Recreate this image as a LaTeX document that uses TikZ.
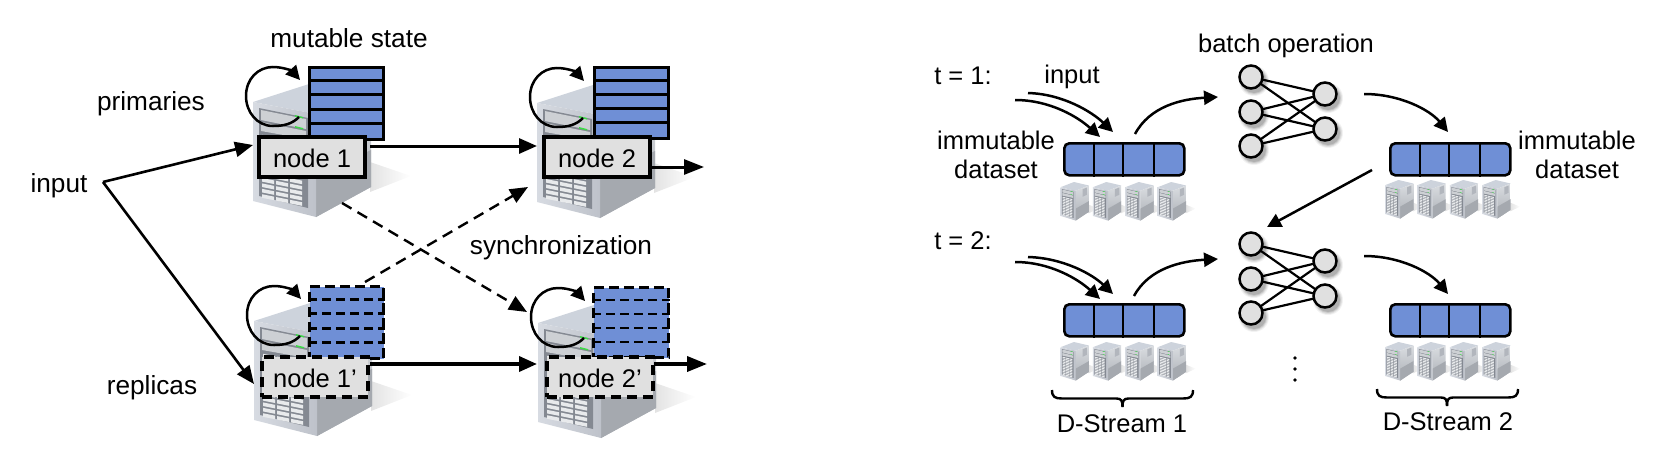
\documentclass[tikz,border=0pt]{standalone}
\usepackage{fontspec}
\setmainfont{Liberation Sans}
\usetikzlibrary{arrows.meta,calc}
\definecolor{blockblue}{RGB}{111,143,214}
\definecolor{boxgray}{RGB}{224,224,224}
\tikzset{
  bigtip/.style={-{Stealth[length=18pt,width=15pt,inset=0pt]}},
  midtip/.style={-{Stealth[length=14pt,width=14pt,inset=0pt]}},
  link/.style={line width=2.6pt,bigtip},
  thicklink/.style={line width=3.6pt,bigtip},
  dashlink/.style={line width=2.4pt,dash pattern=on 11pt off 7pt,bigtip},
  curve/.style={line width=2.5pt,midtip},
  label/.style={inner sep=0pt,anchor=base,font=\fontsize{25.5}{29}\selectfont},
  leftlabel/.style={label,font=\fontsize{26.2}{29}\selectfont},
  nodebox/.style={rectangle,fill=boxgray,draw=black,line width=3.4pt,inner sep=0pt,text height=20pt,text depth=0pt,font=\fontsize{25.5}{29}\selectfont},
  dashbox/.style={nodebox,dash pattern=on 10pt off 6pt},
  stateblock/.style={rectangle,fill=blockblue,draw=black,line width=3.2pt,inner sep=0pt},
  dashblock/.style={stateblock,dash pattern=on 10pt off 5pt},
  rowline/.style={draw=black,line width=2.8pt},
  dashrow/.style={draw=black,line width=2.8pt,dash pattern=on 9pt off 5pt},
  strip/.style={rectangle,rounded corners=5pt,fill=blockblue,draw=black,line width=2.6pt,inner sep=0pt,minimum width=120pt,minimum height=32pt},
  cellline/.style={draw=black,line width=2.4pt},
  circ/.style={circle,fill=boxgray,draw=black,line width=2.5pt,minimum size=23pt,inner sep=0pt},
  netedge/.style={draw=black,line width=2.2pt},
  bracepath/.style={draw=black,line width=2.4pt},
}
% server picture: x, y, xscale, yscale
\newcommand\srv[4]{%
\begin{scope}[shift={(#1,#2)},xscale=#3,yscale=#4]
  \shade[left color=black!11,right color=white] (117,78) -- (158,92) -- (117,108) -- cycle;
  \fill[color={rgb,255:red,205;green,211;blue,220}] (0,18) -- (56,0) -- (118,12) -- (63,30) -- cycle;
  \shade[top color={rgb,255:red,218;green,221;blue,225},bottom color={rgb,255:red,170;green,174;blue,180}] (63,30) -- (118,12) -- (118,103) -- (63,133) -- cycle;
  \fill[color={rgb,255:red,165;green,169;blue,175}] (63,92) -- (118,66) -- (118,103) -- (63,133) -- cycle;
  \fill[color={rgb,255:red,178;green,182;blue,189}] (92,25) -- (110,19) -- (110,44) -- (92,51) -- cycle;
  \shade[left color={rgb,255:red,215;green,219;blue,226},right color={rgb,255:red,190;green,194;blue,202}] (0,18) -- (63,30) -- (63,133) -- (0,117) -- cycle;
  \fill[color={rgb,255:red,132;green,137;blue,146}] (6,24) -- (55,34) -- (55,124) -- (6,112) -- cycle;
  \fill[color={rgb,255:red,205;green,208;blue,212}] (8,26) -- (53,35) -- (53,45) -- (8,36) -- cycle;
  \fill[color={rgb,255:red,205;green,208;blue,212}] (8,38) -- (53,47) -- (53,55) -- (8,47) -- cycle;
  \foreach \cx in {9,23,37}{
    \foreach \r in {0,...,11}{
      \fill[color={rgb,255:red,232;green,234;blue,236}] ({\cx},{49+\r*5.4+.2*\cx}) -- ({\cx+12},{49+\r*5.4+.2*(\cx+12)}) -- ({\cx+12},{52.6+\r*5.4+.2*(\cx+12)}) -- ({\cx},{52.6+\r*5.4+.2*\cx}) -- cycle;
    }
  }
  \fill[color={rgb,255:red,60;green,220;blue,70}] (42,31) -- (50,33) -- (50,34.5) -- (42,32.5) -- cycle;
  \fill[color={rgb,255:red,60;green,220;blue,70}] (42,42) -- (50,44) -- (50,45.5) -- (42,43.5) -- cycle;
\end{scope}}
% self loop
\newcommand\selfloop[3]{%
  \begin{scope}[shift={(#2,#3)}]
  \coordinate (#1s) at (46,33);
  \coordinate (#1e) at (47,-4);
  \draw[curve] (#1s) .. controls (39,40) and (31,42) .. (20,42) .. controls (4,42) and (-7,28) .. (-7,12) .. controls (-7,-5) and (5,-17) .. (20,-17) .. controls (30,-17) and (39,-13) .. (#1e);
  \end{scope}}
% state block
\newcommand\stateblk[5]{% name, x1,y1,x2,y2 (solid)
  \node[stateblock,minimum width={#4-#2},minimum height={#5-#3},anchor=north west] (#1) at (#2,#3) {};
  \foreach \k in {1,2,3,4}{\draw[rowline] ($(#1.north west)+(0,{\k*(#5-#3)/5})$) -- ($(#1.north east)+(0,{\k*(#5-#3)/5})$);}}
\newcommand\dashblk[5]{%
  \node[dashblock,minimum width={#4-#2},minimum height={#5-#3},anchor=north west] (#1) at (#2,#3) {};
  \foreach \k in {1,2,3,4}{\draw[dashrow] ($(#1.north west)+(0,{\k*(#5-#3)/5})$) -- ($(#1.north east)+(0,{\k*(#5-#3)/5})$);}}
% dataset strip: name, x, y (north west)
\newcommand\datastrip[3]{%
  \node[strip,anchor=north west] (#1) at (#2,#3) {};
  \draw[cellline] ($(#1.north west)+(31,0)$) -- ($(#1.south west)+(31,0)$);
  \draw[cellline] ($(#1.north west)+(60,0)$) -- ($(#1.south west)+(60,0)$);
  \draw[cellline] ($(#1.north west)+(91,0)$) -- ($(#1.south west)+(91,0)$);}
% four small servers
\newcommand\fourservers[2]{%
  \foreach \i in {0,1,2,3}{\srv{#1+\i*32.4}{#2}{.24}{.29}}}
% network: name, y offset
\newcommand\nnet[2]{%
  \foreach \n/\x/\y in {a/1251/77,b/1251/112,c/1251/146,d/1325/94,e/1325/129}{
    \foreach \rr/\op in {15/.05,14/.08,13/.1,12/.12}{\fill[black,opacity=\op] (\x+3,\y+#2+4) circle (\rr);}
  }
  \foreach \n/\x/\y in {a/1251/77,b/1251/112,c/1251/146,d/1325/94,e/1325/129}{
    \coordinate (#1\n) at (\x,\y+#2);
  }
  \foreach \p in {a,b,c}{\foreach \q in {d,e}{\draw[netedge] (#1\p) -- (#1\q);}}
  \foreach \n in {a,b,c,d,e}{\node[circ] (#1\n c) at (#1\n) {};}
}
% brace: name, x1, xm, x2, y
\newcommand\hbrace[5]{%
  \coordinate (#1l) at (#2,#5);
  \coordinate (#1r) at (#4,#5);
  \coordinate (#1m) at (#3,#5+17);
  \draw[bracepath] (#1l) .. controls ($(#1l)+(0,7)$) and ($(#1l)+(3,8.5)$) .. ($(#1l)+(10,8.5)$) -- ($(#1m)+(-6,-8.5)$) .. controls ($(#1m)+(-1,-8.5)$) and ($(#1m)+(0,-6)$) .. (#1m);
  \draw[bracepath] (#1r) .. controls ($(#1r)+(0,7)$) and ($(#1r)+(-3,8.5)$) .. ($(#1r)+(-10,8.5)$) -- ($(#1m)+(6,-8.5)$) .. controls ($(#1m)+(1,-8.5)$) and ($(#1m)+(0,-6)$) .. (#1m);}
\begin{document}
\begin{tikzpicture}[x=1pt,y=-1pt]
\useasboundingbox (0,0) rectangle (1656,474);
% ---------- left panel
\srv{253}{84}{1}{1}
\srv{537}{85}{1}{1}
\srv{254}{303}{1}{1}
\srv{538}{305}{1}{1}
\selfloop{la}{253}{84}
\selfloop{lb}{537}{85}
\selfloop{lc}{254}{303}
\selfloop{ld}{538}{305}
\stateblk{sa}{308}{66}{382}{138}
\stateblk{sb}{593}{66}{667}{137}
\dashblk{sc}{308}{285}{382}{357}
\dashblk{sd}{592}{286}{667}{356}
\node[nodebox,minimum width=106pt,minimum height=40pt] (n1) at (312,157) {node 1};
\node[nodebox,minimum width=106pt,minimum height=40pt] (n2) at (597,157) {node 2};
\node[dashbox,minimum width=106pt,minimum height=40pt] (n1p) at (315,377) {node 1’};
\node[dashbox,minimum width=106pt,minimum height=40pt] (n2p) at (600,377) {node 2’};
\node[leftlabel] (tmut) at (349,47) {mutable state};
\node[leftlabel] (tpri) at (151,110) {primaries};
\node[leftlabel] (tinp) at (59,192) {input};
\node[leftlabel] (trep) at (152,394) {replicas};
\node[leftlabel] (tsyn) at (561,254) {synchronization};
\coordinate (fork) at (103,182);
\coordinate (in1) at (253,145);
\coordinate (in1p) at (254,384);
\draw[link] (fork) -- (in1);
\draw[link] (fork) -- (in1p);
\coordinate (a1) at (370,146);
\coordinate (a2) at (537,146);
\draw[link,line width=3pt] (a1) -- (a2);
\coordinate (b1) at (652,167);
\coordinate (b2) at (704,167);
\draw[line width=3pt,-{Stealth[length=20pt,width=15pt,inset=0pt]}] (b1) -- (b2);
\coordinate (c1) at (370,364);
\coordinate (c2) at (537,364);
\draw[thicklink] (c1) -- (c2);
\coordinate (d1) at (654,364);
\coordinate (d2) at (707,364);
\draw[line width=3.6pt,-{Stealth[length=20pt,width=15pt,inset=0pt]}] (d1) -- (d2);
\coordinate (e1) at (342,203);
\coordinate (e2) at (527,312);
\draw[dashlink] (e1) -- (e2);
\coordinate (f1) at (365,282);
\coordinate (f2) at (528,187);
\draw[dashlink] (f1) -- (f2);
% ---------- right panel
\node[label] (tt1) at (963,84) {t = 1:};
\node[label] (tt2) at (963,249) {t = 2:};
\node[label] (tin) at (1072,83) {input};
\node[label] (tim1) at (996,149) {immutable};
\node[label] (tds1) at (996,178) {dataset};
\node[label] (tim2) at (1577,149) {immutable};
\node[label] (tds2) at (1577,178) {dataset};
\node[label] (tbat) at (1286,52) {batch operation};
\node[label] (tsa) at (1122,432) {D-Stream 1};
\node[label] (tsb) at (1448,430) {D-Stream 2};
\fourservers{1060.5}{182}
\fourservers{1060.5}{342}
\fourservers{1385}{180}
\fourservers{1385}{342}
\datastrip{da}{1063}{142}
\datastrip{db}{1063}{303}
\datastrip{dc}{1389}{142}
\datastrip{dd}{1389}{303}
\nnet{na}{0}
\nnet{nb}{167}
% curves row 1
\coordinate (g1) at (1015,100);
\coordinate (g2) at (1100,137);
\draw[curve] (g1) .. controls (1050,100) and (1078,117) .. (g2);
\coordinate (h1) at (1028,93);
\coordinate (h2) at (1113,132);
\draw[curve] (h1) .. controls (1063,94) and (1092,112) .. (h2);
\coordinate (i1) at (1135,134);
\coordinate (i2) at (1218,97);
\draw[curve] (i1) .. controls (1150,106) and (1182,99) .. (i2);
\coordinate (j1) at (1364,94);
\coordinate (j2) at (1448,132);
\draw[curve] (j1) .. controls (1400,94) and (1430,110) .. (j2);
\coordinate (k1) at (1372,170);
\coordinate (k2) at (1267,227);
\draw[curve] (k1) -- (k2);
% curves row 2
\coordinate (g3) at (1015,262);
\coordinate (g4) at (1100,299);
\draw[curve] (g3) .. controls (1050,262) and (1078,279) .. (g4);
\coordinate (h3) at (1028,257);
\coordinate (h4) at (1113,294);
\draw[curve] (h3) .. controls (1063,258) and (1092,274) .. (h4);
\coordinate (i3) at (1134,296);
\coordinate (i4) at (1218,259);
\draw[curve] (i3) .. controls (1149,268) and (1182,261) .. (i4);
\coordinate (j3) at (1364,256);
\coordinate (j4) at (1448,294);
\draw[curve] (j3) .. controls (1400,256) and (1430,272) .. (j4);
% dots
\foreach \y in {358,369,380}{\fill[black] (1295,\y) circle (1.8);}
% braces
\hbrace{ba}{1052}{1122.5}{1193}{390}
\hbrace{bb}{1377}{1447}{1518}{389}
\end{tikzpicture}
\end{document}
